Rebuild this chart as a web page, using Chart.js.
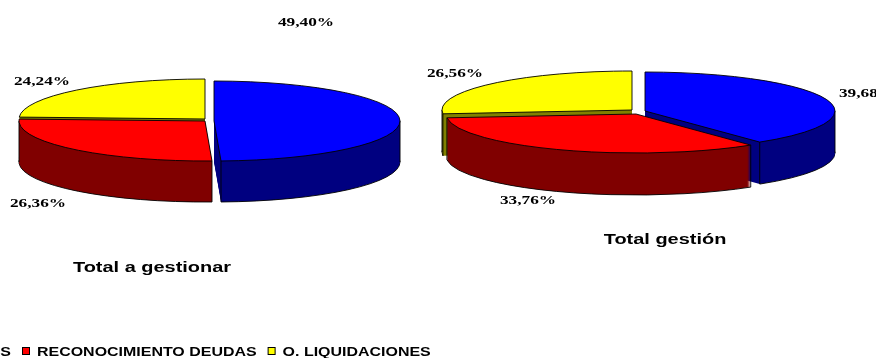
<!DOCTYPE html>
<html>
<head>
<meta charset="utf-8">
<title>Total a gestionar / Total gestión</title>
<script src="https://cdn.jsdelivr.net/npm/chart.js@4.4.1/dist/chart.umd.min.js"></script>
<style>
  html, body { margin: 0; padding: 0; background: #fff; }
  #caja { position: relative; width: 876px; height: 358px; overflow: hidden; }
  #caja canvas { position: absolute; left: 0; top: 0; }
</style>
</head>
<body>
<div id="caja">
  <canvas id="tartaA" width="876" height="358"></canvas>
  <canvas id="tartaB" width="876" height="358"></canvas>
</div>
<script>
// datos
var categorias = ['BAJAS', 'RECONOCIMIENTO DEUDAS', 'O. LIQUIDACIONES'];
var totalGestionar = [49.40, 26.36, 24.24];
var totalGestion = [39.68, 33.76, 26.56];
var titulos = ['Total a gestionar', 'Total gestión'];

var colores = ['#0000FF', '#FF0000', '#FFFF00'];
var coloresLado = ['#000080', '#800000', '#808000'];

// posicion de cada tarta (elipse, grosor, separacion de porciones, etiquetas)
var formaA = {
  cx: 209, cy: 120, rx: 186, ry: 40, fondo: 41,
  separa: [[5, 1], [-4, 1], [-4, -1]],
  etiquetas: [[306, 23], [38, 204], [42, 82]],
  titulo: [152, 272]
};
var formaB = {
  cx: 637, cy: 112, rx: 190, ry: 39, fondo: 42,
  separa: [[8, -1], [-1, 2], [-5, -2]],
  etiquetas: [[867, 94], [528, 201], [455, 74]],
  titulo: [665, 244],
  leyenda: true
};

var ESTIRA = 1.33; // el texto sale ensanchado

function porcentaje(v) {
  return v.toFixed(2).replace('.', ',') + '%';
}

function texto(ctx, s, x, y, fuente, alinea, base) {
  ctx.save();
  ctx.translate(x, y);
  ctx.scale(ESTIRA, 1);
  ctx.font = fuente;
  ctx.fillStyle = '#000';
  ctx.textAlign = alinea || 'center';
  ctx.textBaseline = base || 'middle';
  ctx.fillText(s, 0, 0);
  ctx.restore();
}

function mitad(arc) {
  return (arc.startAngle + arc.endAngle) / 2;
}

// pasa del circulo de Chart.js a la elipse en pantalla
function aElipse(ctx, arc, f, i, d) {
  var e = f.separa[i];
  ctx.translate(f.cx + e[0], f.cy + e[1] + d);
  ctx.scale(f.rx / arc.outerRadius, f.ry / arc.outerRadius);
  ctx.translate(-arc.x, -arc.y);
}

function pintarPorcion(ctx, arc, f, i, d, color) {
  var copia = Object.create(arc);
  copia.options = Object.assign({}, arc.options, { backgroundColor: color, borderWidth: 0 });
  ctx.save();
  aElipse(ctx, arc, f, i, d);
  copia.draw(ctx);
  ctx.restore();
}

function bordePorcion(ctx, arc, f, i, d, soloCanto) {
  ctx.save();
  aElipse(ctx, arc, f, i, d);
  ctx.beginPath();
  if (!soloCanto) ctx.moveTo(arc.x, arc.y);
  ctx.arc(arc.x, arc.y, arc.outerRadius, arc.startAngle, arc.endAngle);
  if (!soloCanto) ctx.closePath();
  ctx.restore();
  ctx.lineWidth = 0.9;
  ctx.strokeStyle = '#000';
  ctx.stroke();
}

function tarta3d(f, valores, titulo) {
  return {
    id: 'tarta3d',
    beforeDatasetsDraw: function (chart) {
      var ctx = chart.ctx;
      var arcs = chart.getDatasetMeta(0).data;
      var orden = arcs.map(function (a, i) { return i; }).sort(function (a, b) {
        return Math.sin(mitad(arcs[a])) - Math.sin(mitad(arcs[b]));
      });

      // pared lateral, capa a capa desde abajo
      for (var d = f.fondo; d >= 1; d--) {
        orden.forEach(function (i) {
          pintarPorcion(ctx, arcs[i], f, i, d, coloresLado[i]);
        });
        if (d === f.fondo) {
          orden.forEach(function (i) { bordePorcion(ctx, arcs[i], f, i, d, true); });
        }
      }

      // aristas verticales de la pared
      orden.forEach(function (i) {
        var a = arcs[i], e = f.separa[i];
        var angs = [a.startAngle, a.endAngle];
        [0, Math.PI, 2 * Math.PI].forEach(function (t) {
          if (t > a.startAngle && t < a.endAngle) angs.push(t);
        });
        angs.forEach(function (t) {
          if (Math.sin(t) < -0.02) return;
          var x = f.cx + e[0] + f.rx * Math.cos(t);
          var y = f.cy + e[1] + f.ry * Math.sin(t);
          ctx.beginPath();
          ctx.moveTo(x, y);
          ctx.lineTo(x, y + f.fondo);
          ctx.lineWidth = 0.9;
          ctx.strokeStyle = '#000';
          ctx.stroke();
        });
      });

      // cara de arriba
      orden.forEach(function (i) {
        pintarPorcion(ctx, arcs[i], f, i, 0, colores[i]);
        bordePorcion(ctx, arcs[i], f, i, 0, false);
      });
      return false;
    },
    afterDraw: function (chart) {
      var ctx = chart.ctx;
      valores.forEach(function (v, i) {
        var p = f.etiquetas[i];
        texto(ctx, porcentaje(v), p[0], p[1], 'bold 13px "Liberation Serif", "Times New Roman", serif');
      });
      texto(ctx, titulo, f.titulo[0], f.titulo[1], 'bold 15px "Liberation Sans", Arial, sans-serif', 'center', 'alphabetic');

      if (f.leyenda) {
        // leyenda: cuadrito + nombre; el primero queda medio fuera
        ctx.save();
        ctx.font = 'bold 12px "Liberation Sans", Arial, sans-serif';
        var anchos = categorias.map(function (c) { return ctx.measureText(c).width * ESTIRA; });
        ctx.restore();
        var x = 22 - 11 - anchos[0] - 15;
        categorias.forEach(function (c, i) {
          ctx.fillStyle = colores[i];
          ctx.fillRect(x + 0.5, 347.5, 7, 7);
          ctx.lineWidth = 1;
          ctx.strokeStyle = '#000';
          ctx.strokeRect(x + 0.5, 347.5, 7, 7);
          texto(ctx, c, x + 15, 356, 'bold 12px "Liberation Sans", Arial, sans-serif', 'left', 'alphabetic');
          x += 15 + anchos[i] + 11;
        });
      }
    }
  };
}

function hacerTarta(id, valores, titulo, f) {
  return new Chart(document.getElementById(id), {
    type: 'pie',
    data: {
      labels: categorias,
      datasets: [{
        data: valores,
        backgroundColor: colores,
        borderWidth: 0,
        clip: false
      }]
    },
    options: {
      responsive: false,
      devicePixelRatio: 1,
      animation: false,
      events: [],
      plugins: {
        legend: { display: false },
        tooltip: { enabled: false }
      }
    },
    plugins: [tarta3d(f, valores, titulo)]
  });
}

hacerTarta('tartaA', totalGestionar, titulos[0], formaA);
hacerTarta('tartaB', totalGestion, titulos[1], formaB);
</script>
</body>
</html>
